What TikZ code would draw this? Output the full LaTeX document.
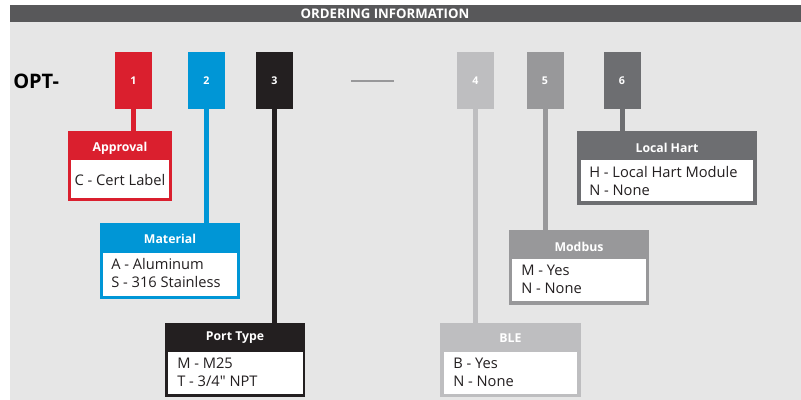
\documentclass[tikz,border=0pt]{standalone}
\usepackage{fontspec}
\setmainfont{Open Sans}[Ligatures=TeXOff]
\definecolor{cred}{RGB}{218,31,46}
\definecolor{cblue}{RGB}{0,150,214}
\definecolor{cblack}{RGB}{35,31,32}
\definecolor{cgfour}{RGB}{190,190,192}
\definecolor{cgfive}{RGB}{152,152,154}
\definecolor{cgsix}{RGB}{109,110,113}
\definecolor{cbar}{RGB}{88,88,90}
\definecolor{cpanel}{RGB}{230,230,230}
\definecolor{ctext}{RGB}{35,31,32}
\begin{document}
\begin{tikzpicture}[x=0.75pt,y=-0.75pt,
  numbox/.style={rectangle,inner sep=0pt,minimum width=27.75pt,minimum height=42.75pt,text=white,font=\bfseries\fontsize{8}{10}\selectfont},
  outerbox/.style={rectangle,inner sep=0pt},
  innerbox/.style={rectangle,inner sep=0pt,fill=white},
  headtext/.style={text=white,font=\bfseries\fontsize{9.2}{10}\selectfont,inner sep=0pt},
  itemtext/.style={text=ctext,font=\fontsize{11}{13.5}\selectfont,align=left,anchor=west,inner sep=0pt},
  conn/.style={line width=3.75pt}]
\useasboundingbox (0,0) rectangle (801,400);
\fill[cpanel] (10,22) rectangle (801,400);
\fill[cbar] (10,5) rectangle (801,22);
\node[text=white,font=\bfseries\fontsize{9.9}{10}\selectfont,inner sep=0pt] (title) at (385,13.5) {ORDERING INFORMATION};
\node[text=black,font=\bfseries\fontsize{15}{16}\selectfont,anchor=west,inner sep=0pt] (opt) at (13,81) {OPT-};
% number boxes
\node[numbox,fill=cred] (n1) at (133.5,80.5) {1};
\node[numbox,fill=cblue] (n2) at (206.5,80.5) {2};
\node[numbox,fill=cblack] (n3) at (274.5,80.5) {3};
\node[numbox,fill=cgfour] (n4) at (475.5,80.5) {4};
\node[numbox,fill=cgfive] (n5) at (545,80.5) {5};
\node[numbox,fill=cgsix] (n6) at (622,80.5) {6};
\coordinate (dA) at (351,81);
\coordinate (dB) at (394,81);
\draw[cgfive,line width=1.1pt] (dA) -- (dB);
% Approval
\node[outerbox,fill=cred,minimum width=78pt,minimum height=52.5pt] (b1) at (120,166) {};
\node[headtext] (h1) at (120,148) {Approval};
\node[innerbox,minimum width=73.5pt,minimum height=28.5pt] (w1) at (120,179) {};
\node[text=ctext,font=\fontsize{11}{13.5}\selectfont,inner sep=0pt] (t1) at (120,180) {C - Cert Label};
% Material
\node[outerbox,fill=cblue,minimum width=105pt,minimum height=57pt] (b2) at (170,261) {};
\node[headtext] (h2) at (170,239) {Material};
\node[innerbox,minimum width=100.5pt,minimum height=32.25pt] (w2) at (170,274.5) {};
\node[itemtext] (t2) at (111,273) {A - Aluminum\\S - 316 Stainless};
% Port Type
\node[outerbox,fill=cblack,minimum width=105pt,minimum height=55.5pt] (b3) at (235,360) {};
\node[headtext] (h3) at (235,338) {Port Type};
\node[innerbox,minimum width=101.25pt,minimum height=31.5pt] (w3) at (235.5,373) {};
\node[itemtext] (t3) at (177,372) {M - M25\\T - 3/4" NPT};
% BLE
\node[outerbox,fill=cgfour,minimum width=105.75pt,minimum height=55.5pt] (b4) at (510.5,360) {};
\node[headtext] (h4) at (510.5,338) {BLE};
\node[innerbox,minimum width=99.75pt,minimum height=31.5pt] (w4) at (510.5,373) {};
\node[itemtext] (t4) at (453,372) {B - Yes\\N - None};
% Modbus
\node[outerbox,fill=cgfive,minimum width=105pt,minimum height=56.25pt] (b5) at (579,267.5) {};
\node[headtext] (h5) at (579,247) {Modbus};
\node[innerbox,minimum width=100.5pt,minimum height=31.5pt] (w5) at (579,280) {};
\node[itemtext] (t5) at (521,279.5) {M - Yes\\N - None};
% Local Hart
\node[outerbox,fill=cgsix,minimum width=135pt,minimum height=55.5pt] (b6) at (667,168) {};
\node[headtext] (h6) at (667,148) {Local Hart};
\node[innerbox,minimum width=129pt,minimum height=30.75pt] (w6) at (667,180.5) {};
\node[itemtext] (t6) at (589,181) {H - Local Hart Module\\N - None};
% connectors
\draw[conn,cred] (n1.south) -- (n1.south |- b1.north);
\draw[conn,cblue] (n2.south) -- (n2.south |- b2.north);
\draw[conn,cblack] (n3.south) -- (n3.south |- b3.north);
\draw[conn,cgfour] (n4.south) -- (n4.south |- b4.north);
\draw[conn,cgfive] (n5.south) -- (n5.south |- b5.north);
\draw[conn,cgsix] (n6.south) -- (n6.south |- b6.north);
\end{tikzpicture}
\end{document}
